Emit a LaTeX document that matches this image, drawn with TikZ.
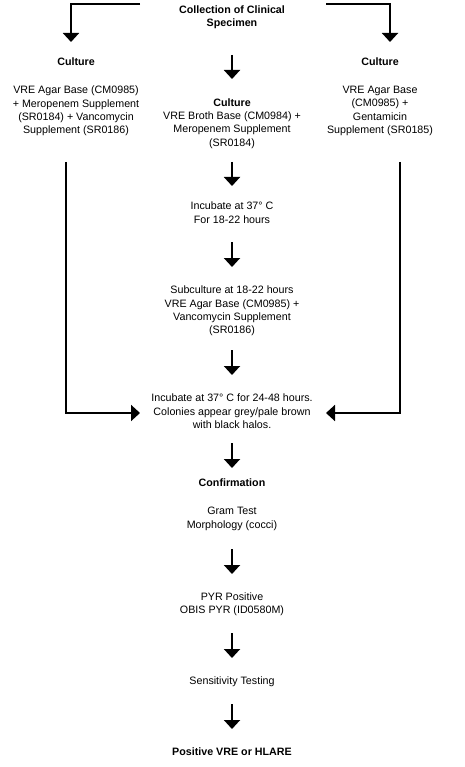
\documentclass[tikz,border=0pt]{standalone}
\usepackage{fontspec}
\setmainfont{Liberation Sans}
\usetikzlibrary{arrows.meta}
\begin{document}
\begin{tikzpicture}[x=1pt,y=-1pt,
  txt/.style={align=center,inner sep=0pt,font=\fontsize{10.7}{13.4}\selectfont},
  bold/.style={txt,font=\fontsize{10.7}{13.4}\selectfont\bfseries},
  arr/.style={line width=2pt,-{Triangle[width=16pt,length=9pt]}},
  ln/.style={line width=2pt}]
\useasboundingbox (0,0) rectangle (464,767);
% nodes
\node[bold] (coll) at (232,17.5) {Collection of Clinical\\Specimen};
\node[bold] (cultL) at (76,62) {Culture};
\node[bold] (cultR) at (380,62) {Culture};
\node[txt] (mediaL) at (76,111) {VRE Agar Base (CM0985)\\+ Meropenem Supplement\\(SR0184) + Vancomycin\\Supplement (SR0186)};
\node[txt] (mediaR) at (380,111) {VRE Agar Base\\(CM0985) +\\Gentamicin\\Supplement (SR0185)};
\node[bold] (cultC) at (232,103) {Culture};
\node[txt] (broth) at (232,130) {VRE Broth Base (CM0984) +\\Meropenem Supplement\\(SR0184)};
\node[txt] (inc1) at (232,212.5) {Incubate at 37° C\\For 18-22 hours};
\node[txt] (sub) at (232,311) {Subculture at 18-22 hours\\VRE Agar Base (CM0985) +\\Vancomycin Supplement\\(SR0186)};
\node[txt] (inc2) at (232,411.5) {Incubate at 37° C for 24-48 hours.\\Colonies appear grey/pale brown\\with black halos.};
\node[bold] (conf) at (232,483) {Confirmation};
\node[txt] (gram) at (232,519) {Gram Test\\Morphology (cocci)};
\node[txt] (pyr) at (232,604) {PYR Positive\\OBIS PYR (ID0580M)};
\node[txt] (sens) at (232,682) {Sensitivity Testing};
\node[bold] (res) at (232,752) {Positive VRE or HLARE};
% coordinates
\coordinate (lt) at (140,4);
\coordinate (rt) at (326,4);
\coordinate (ltip) at (71,42);
\coordinate (rtip) at (390,42);
\coordinate (ca1) at (232,55);
\coordinate (ca2) at (232,79);
\coordinate (lv) at (66,162);
\coordinate (rv) at (400,162);
\coordinate (lh) at (140,413);
\coordinate (rh) at (326,413);
% connectors
\draw[arr] (lt) -| (ltip);
\draw[arr] (rt) -| (rtip);
\draw[arr] (ca1) -- (ca2);
\draw[arr] (232,162) -- (232,186);
\draw[arr] (232,242) -- (232,267);
\draw[arr] (232,350) -- (232,375);
\draw[arr] (lv) |- (lh);
\draw[arr] (rv) |- (rh);
\draw[arr] (232,443) -- (232,468);
\draw[arr] (232,549) -- (232,574);
\draw[arr] (232,633) -- (232,658);
\draw[arr] (232,704) -- (232,729);
\end{tikzpicture}
\end{document}
